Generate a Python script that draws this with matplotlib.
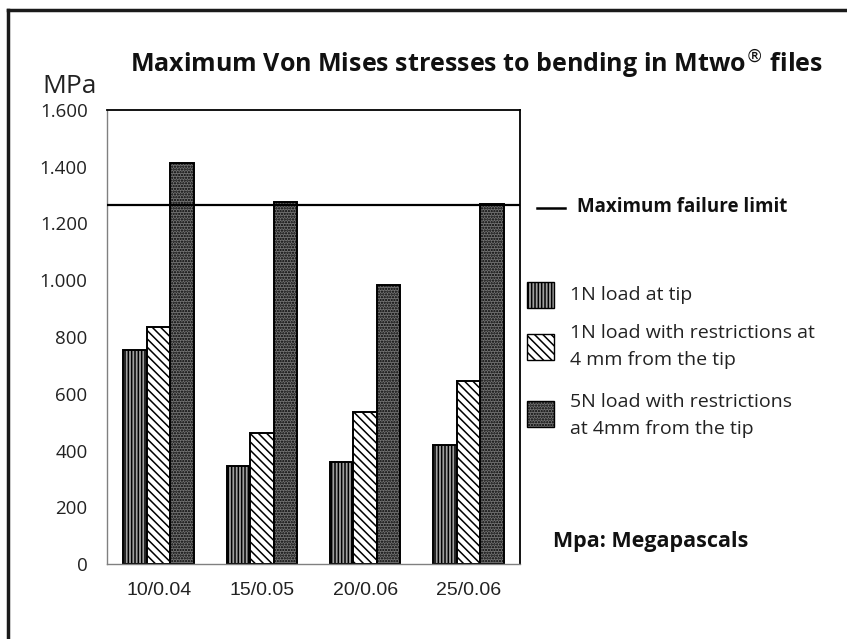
import matplotlib.pyplot as plt
import numpy as np
from matplotlib.patches import Rectangle
from matplotlib.lines import Line2D

files = ["10/0.04", "15/0.05", "20/0.06", "25/0.06"]
load_tip = [754, 347, 361, 418]
load_restr_1n = [836, 461, 535, 646]
load_restr_5n = [1413, 1275, 983, 1270]
failure_limit = 1265
yticks = [0, 200, 400, 600, 800, 1000, 1200, 1400, 1600]
ytick_labels = ["0", "200", "400", "600", "800", "1.000", "1.200", "1.400", "1.600"]

plt.rcParams['font.family'] = ['Open Sans', 'DejaVu Sans']
plt.rcParams['hatch.linewidth'] = 1.1

W, H = 847, 639
fig = plt.figure(figsize=(W / 100, H / 100), dpi=100)

def px(x, y):
    # pixel position (from top left) -> figure fraction
    return x / W, 1 - y / H

ax = fig.add_axes([107 / W, 1 - 564 / H, 413 / W, 454 / H])

x = np.arange(len(files))
w = 0.228
styles = [
    dict(facecolor='#a0a0a0', hatch='|||||'),
    dict(facecolor='white', hatch='\\\\\\\\'),
    dict(facecolor='#747474', hatch='......'),
]
series = [load_tip, load_restr_1n, load_restr_5n]
for i, (vals, st) in enumerate(zip(series, styles)):
    ax.bar(x + (i - 1) * w, vals, w, edgecolor='black', linewidth=1.4, **st)

ax.axhline(failure_limit, color='black', lw=1.6, zorder=5)

ax.set_xlim(-0.5, len(files) - 0.5)
ax.set_ylim(0, 1600)
ax.set_yticks(yticks)
ax.set_yticklabels(ytick_labels, fontsize=13.5, color='#222222')
ax.set_xticks(x)
ax.set_xticklabels(files, fontsize=14, family='Liberation Sans', color='#222222')
ax.tick_params(axis='y', length=0, pad=14)
ax.tick_params(axis='x', length=0, pad=13)
for s in ['top', 'right']:
    ax.spines[s].set_color('black')
    ax.spines[s].set_linewidth(1.3)
for s in ['left', 'bottom']:
    ax.spines[s].set_color('#808080')
    ax.spines[s].set_linewidth(1.0)

# title and unit
fig.text(*px(476, 73), "Maximum Von Mises stresses to bending in Mtwo$^{®}$ files",
         ha='center', va='baseline', fontsize=18, fontweight='bold', color='#111111')
fig.text(*px(42, 93), "MPa", ha='left', va='baseline', fontsize=19, color='#222222')

# failure limit legend
fig.add_artist(Line2D([537 / W, 565 / W], [1 - 208 / H] * 2, color='black', lw=1.8))
fig.text(*px(577, 212), "Maximum failure limit", ha='left', va='baseline',
         fontsize=13.5, fontweight='bold', color='#111111')

# series legend
labels = [["1N load at tip"],
          ["1N load with restrictions at", "4 mm from the tip"],
          ["5N load with restrictions", "at 4mm from the tip"]]
patch_top = [282, 334, 401]
text_base = [300, 338, 407]
for st, lab, pt, tb in zip(styles, labels, patch_top, text_base):
    x0, y0 = px(527, pt + 26)
    fig.add_artist(Rectangle((x0, y0), 27 / W, 26 / H, transform=fig.transFigure,
                             edgecolor='black', linewidth=1.0, **st))
    for k, line in enumerate(lab):
        fig.text(*px(570, tb + 27 * k), line, ha='left', va='baseline',
                 fontsize=14, color='#222222')

fig.text(*px(553, 547), "Mpa: Megapascals", ha='left', va='baseline',
         fontsize=15.5, fontweight='bold', color='#111111')

# outer frame (top and left edges)
fig.add_artist(Line2D([8 / W, 1], [1 - 10 / H] * 2, color='#1a1a1a', lw=2.5))
fig.add_artist(Line2D([8 / W] * 2, [0, 1 - 10 / H], color='#1a1a1a', lw=2.5))

fig.savefig('out.png', dpi=100)
